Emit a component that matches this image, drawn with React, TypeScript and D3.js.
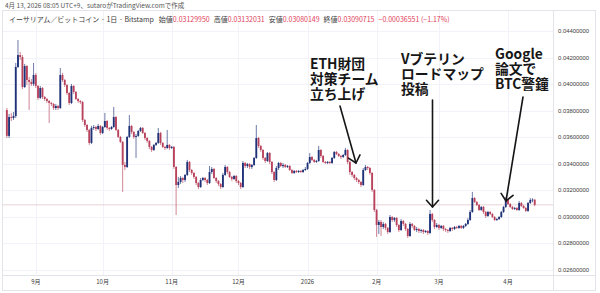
import React from 'react';
import * as d3 from 'd3';

// ---------- DATA ----------
const startDate = '2025-08-19';
const firstOpen = 0.03805;
const closes = [
  0.03610, 0.03752, 0.03745, 0.03760, 0.04129, 0.04219, 0.04204, 0.03978, 0.04136, 0.04031,
  0.04016, 0.04001, 0.04069, 0.03986, 0.03896, 0.03971, 0.03903, 0.03888, 0.03873, 0.03858,
  0.03850, 0.03820, 0.03835, 0.03820, 0.04069, 0.04031, 0.03993, 0.03933, 0.03858, 0.03986,
  0.03941, 0.03888, 0.03873, 0.03865, 0.03730, 0.03692, 0.03655, 0.03557, 0.03670, 0.03677,
  0.03662, 0.03685, 0.03632, 0.03677, 0.03722, 0.03670, 0.03662, 0.03677, 0.03752, 0.03655,
  0.03602, 0.03564, 0.03391, 0.03376, 0.03602, 0.03685, 0.03640, 0.03602, 0.03610, 0.03647,
  0.03670, 0.03632, 0.03594, 0.03572, 0.03527, 0.03504, 0.03542, 0.03557, 0.03632, 0.03557,
  0.03527, 0.03519, 0.03542, 0.03519, 0.03527, 0.03376, 0.03240, 0.03263, 0.03293, 0.03278,
  0.03316, 0.03414, 0.03353, 0.03331, 0.03301, 0.03255, 0.03225, 0.03278, 0.03293, 0.03278,
  0.03255, 0.03338, 0.03361, 0.03293, 0.03270, 0.03248, 0.03225, 0.03316, 0.03376, 0.03338,
  0.03301, 0.03286, 0.03308, 0.03270, 0.03255, 0.03225, 0.03406, 0.03383, 0.03398, 0.03376,
  0.03391, 0.03444, 0.03594, 0.03534, 0.03504, 0.03444, 0.03421, 0.03481, 0.03414, 0.03338,
  0.03278, 0.03368, 0.03406, 0.03383, 0.03391, 0.03376, 0.03383, 0.03353, 0.03331, 0.03346,
  0.03338, 0.03346, 0.03338, 0.03353, 0.03361, 0.03406, 0.03451, 0.03429, 0.03414, 0.03421,
  0.03504, 0.03459, 0.03414, 0.03406, 0.03414, 0.03406, 0.03444, 0.03489, 0.03474, 0.03459,
  0.03451, 0.03466, 0.03504, 0.03414, 0.03338, 0.03316, 0.03293, 0.03278, 0.03263, 0.03240,
  0.03353, 0.03376, 0.03368, 0.03331, 0.03203, 0.03052, 0.02939, 0.02962, 0.02924, 0.02947,
  0.02917, 0.02886, 0.02999, 0.02977, 0.02992, 0.02939, 0.02901, 0.02969, 0.02947, 0.02909,
  0.02856, 0.02947, 0.02932, 0.02901, 0.02909, 0.02894, 0.02901, 0.02886, 0.02894, 0.02879,
  0.03022, 0.02977, 0.02924, 0.02939, 0.02917, 0.02932, 0.02909, 0.02901, 0.02894, 0.02917,
  0.02909, 0.02924, 0.02917, 0.02932, 0.02917, 0.02932, 0.02947, 0.02977, 0.03037, 0.03142,
  0.03112, 0.03090, 0.03052, 0.03075, 0.03037, 0.03007, 0.03037, 0.03022, 0.02999, 0.02977,
  0.02984, 0.02999, 0.03037, 0.03075, 0.03135, 0.03097, 0.03075, 0.03060, 0.03067, 0.03052,
  0.03105, 0.03082, 0.03067, 0.03045, 0.03105, 0.03127, 0.03130, 0.03090715,
];
const highs = [
  0.03820, 0.03775, 0.03783, 0.03790, 0.04159, 0.04332, 0.04242, 0.04219, 0.04152, 0.04144,
  0.04054, 0.04039, 0.04159, 0.04084, 0.03993, 0.03986, 0.03978, 0.03911, 0.03896, 0.03880,
  0.03865, 0.03858, 0.03850, 0.03843, 0.04121, 0.04084, 0.04039, 0.04001, 0.03941, 0.04001,
  0.03993, 0.03948, 0.03896, 0.03880, 0.03873, 0.03737, 0.03700, 0.03662, 0.03685, 0.03692,
  0.03685, 0.03700, 0.03692, 0.03685, 0.03783, 0.03730, 0.03677, 0.03685, 0.03828, 0.03760,
  0.03662, 0.03610, 0.03572, 0.03414, 0.03610, 0.03767, 0.03692, 0.03647, 0.03624, 0.03655,
  0.03677, 0.03677, 0.03640, 0.03602, 0.03579, 0.03534, 0.03549, 0.03564, 0.03670, 0.03640,
  0.03564, 0.03534, 0.03655, 0.03549, 0.03534, 0.03534, 0.03383, 0.03301, 0.03308, 0.03301,
  0.03323, 0.03429, 0.03421, 0.03361, 0.03338, 0.03308, 0.03263, 0.03293, 0.03301, 0.03301,
  0.03286, 0.03383, 0.03376, 0.03368, 0.03301, 0.03278, 0.03255, 0.03331, 0.03391, 0.03383,
  0.03346, 0.03308, 0.03316, 0.03316, 0.03278, 0.03263, 0.03421, 0.03414, 0.03406, 0.03406,
  0.03398, 0.03451, 0.03692, 0.03602, 0.03542, 0.03511, 0.03451, 0.03489, 0.03489, 0.03421,
  0.03346, 0.03383, 0.03414, 0.03414, 0.03406, 0.03398, 0.03391, 0.03391, 0.03361, 0.03353,
  0.03353, 0.03353, 0.03353, 0.03361, 0.03376, 0.03414, 0.03481, 0.03459, 0.03436, 0.03429,
  0.03534, 0.03511, 0.03466, 0.03421, 0.03421, 0.03421, 0.03451, 0.03496, 0.03496, 0.03481,
  0.03466, 0.03474, 0.03519, 0.03511, 0.03421, 0.03346, 0.03323, 0.03301, 0.03286, 0.03270,
  0.03368, 0.03391, 0.03383, 0.03376, 0.03338, 0.03210, 0.03060, 0.02977, 0.02977, 0.02962,
  0.02954, 0.02924, 0.03014, 0.03007, 0.02999, 0.02999, 0.02947, 0.02984, 0.02977, 0.02954,
  0.02917, 0.02962, 0.02954, 0.02939, 0.02924, 0.02917, 0.02909, 0.02909, 0.02901, 0.02901,
  0.03052, 0.03030, 0.02984, 0.02954, 0.02947, 0.02939, 0.02939, 0.02917, 0.02909, 0.02924,
  0.02924, 0.02932, 0.02932, 0.02939, 0.02939, 0.02939, 0.02954, 0.02992, 0.03052, 0.03188,
  0.03150, 0.03120, 0.03097, 0.03082, 0.03082, 0.03045, 0.03045, 0.03045, 0.03030, 0.03007,
  0.02992, 0.03007, 0.03045, 0.03082, 0.03150, 0.03142, 0.03105, 0.03082, 0.03075, 0.03075,
  0.03120, 0.03112, 0.03090, 0.03075, 0.03112, 0.03142, 0.03140, 0.03132031,
];
const lows = [
  0.03594, 0.03594, 0.03722, 0.03730, 0.03745, 0.04121, 0.04182, 0.03963, 0.03971, 0.03993,
  0.03805, 0.03986, 0.03986, 0.03971, 0.03880, 0.03888, 0.03888, 0.03873, 0.03858, 0.03707,
  0.03835, 0.03805, 0.03805, 0.03805, 0.03813, 0.04016, 0.03978, 0.03918, 0.03843, 0.03850,
  0.03926, 0.03880, 0.03858, 0.03850, 0.03715, 0.03677, 0.03640, 0.03542, 0.03549, 0.03655,
  0.03647, 0.03655, 0.03617, 0.03624, 0.03670, 0.03655, 0.03647, 0.03655, 0.03670, 0.03647,
  0.03594, 0.03557, 0.03188, 0.03353, 0.03368, 0.03594, 0.03624, 0.03587, 0.03444, 0.03602,
  0.03640, 0.03624, 0.03579, 0.03557, 0.03511, 0.03489, 0.03496, 0.03534, 0.03549, 0.03542,
  0.03519, 0.03504, 0.03511, 0.03504, 0.03511, 0.03361, 0.03014, 0.03218, 0.03248, 0.03255,
  0.03263, 0.03308, 0.03338, 0.03316, 0.03286, 0.03240, 0.03210, 0.03218, 0.03270, 0.03263,
  0.03240, 0.03248, 0.03323, 0.03286, 0.03255, 0.03233, 0.03210, 0.03218, 0.03308, 0.03323,
  0.03293, 0.03270, 0.03278, 0.03255, 0.03240, 0.03210, 0.03218, 0.03368, 0.03368, 0.03361,
  0.03361, 0.03383, 0.03436, 0.03519, 0.03489, 0.03429, 0.03406, 0.03414, 0.03398, 0.03323,
  0.03263, 0.03270, 0.03353, 0.03376, 0.03368, 0.03368, 0.03368, 0.03346, 0.03323, 0.03323,
  0.03331, 0.03331, 0.03331, 0.03331, 0.03346, 0.03353, 0.03398, 0.03421, 0.03406, 0.03406,
  0.03414, 0.03444, 0.03406, 0.03398, 0.03398, 0.03398, 0.03398, 0.03436, 0.03466, 0.03451,
  0.03436, 0.03444, 0.03459, 0.03398, 0.03316, 0.03301, 0.03278, 0.03263, 0.03248, 0.03225,
  0.03233, 0.03346, 0.03353, 0.03316, 0.03188, 0.03037, 0.02849, 0.02871, 0.02856, 0.02909,
  0.02901, 0.02871, 0.02879, 0.02962, 0.02962, 0.02924, 0.02886, 0.02894, 0.02932, 0.02894,
  0.02841, 0.02849, 0.02917, 0.02894, 0.02886, 0.02879, 0.02879, 0.02871, 0.02879, 0.02864,
  0.02871, 0.02962, 0.02909, 0.02917, 0.02901, 0.02909, 0.02894, 0.02886, 0.02879, 0.02886,
  0.02894, 0.02901, 0.02909, 0.02909, 0.02909, 0.02909, 0.02924, 0.02939, 0.02969, 0.03030,
  0.03105, 0.03082, 0.03045, 0.03045, 0.03022, 0.02992, 0.02999, 0.03014, 0.02992, 0.02969,
  0.02969, 0.02977, 0.02992, 0.03030, 0.03067, 0.03090, 0.03067, 0.03052, 0.03052, 0.03045,
  0.03045, 0.03075, 0.03060, 0.03037, 0.03037, 0.03097, 0.03110, 0.03080149,
];

const monthTickDates = ['2025-09-01', '2025-10-01', '2025-11-01', '2025-12-01', '2026-01-01', '2026-02-01', '2026-03-01', '2026-04-01'];
const monthTickLabels = ['9月', '10月', '11月', '12月', '2026', '2月', '3月', '4月'];
const priceTicks = [0.026, 0.028, 0.030, 0.032, 0.034, 0.036, 0.038, 0.040, 0.042, 0.044];

const creditText = '4月 13, 2026 08:05 UTC+9、sutaroがTradingView.comで作成';
const symbolText = 'イーサリアム／ビットコイン · 1日 · Bitstamp';
const ohlcLabels = ['始値', '高値', '安値', '終値'];
const ohlcValues = ['0.03129950', '0.03132031', '0.03080149', '0.03090715'];
const changeText = '−0.00036551 (−1.17%)';

const noteTexts = [
  ['ETH財団', '対策チーム', '立ち上げ'],
  ['Vブテリン', 'ロードマップ', '投稿'],
  ['Google', '論文で', 'BTC警鐘'],
];

// ---------- LAYOUT ----------
const W = 600;
const H = 293;
const paneLeft = 2.5;
const paneRight = 553.5;
const paneTop = 10.5;
const paneBottom = 275.5;
const frameRight = 595.5;
const frameBottom = 290.5;

const UP = '#1f3278';
const DOWN = '#b8425c';

const noteLayout = [
  { x: 310, y: 69, from: [340, 106], to: [356, 163] },
  { x: 401, y: 64, from: [432.5, 100], to: [432.5, 207] },
  { x: 495, y: 59, from: [523, 97], to: [506, 201] },
];

const parse = d3.utcParse('%Y-%m-%d');

export default function App() {
  const start = parse(startDate) as Date;
  const x = d3
    .scaleUtc()
    .domain([parse('2025-09-01') as Date, parse('2026-04-01') as Date])
    .range([35.8, 508]);
  const y = d3.scaleLinear().domain([0.026, 0.044]).range([270, 31]);

  const candles = closes.map((c, i) => {
    const o = i === 0 ? firstOpen : closes[i - 1];
    return {
      date: d3.utcDay.offset(start, i),
      open: o,
      close: c,
      high: Math.max(highs[i], o, c),
      low: Math.min(lows[i], o, c),
    };
  });

  const bodyW = 1.85;
  const last = candles[candles.length - 1];

  const arrowHead = (from: number[], to: number[]) => {
    const ang = Math.atan2(to[1] - from[1], to[0] - from[0]);
    const len = 9;
    const spread = (42 * Math.PI) / 180;
    const a1 = ang + Math.PI - spread;
    const a2 = ang + Math.PI + spread;
    return `M${to[0] + len * Math.cos(a1)},${to[1] + len * Math.sin(a1)}L${to[0]},${to[1]}L${to[0] + len * Math.cos(a2)},${to[1] + len * Math.sin(a2)}`;
  };

  return (
    <svg
      width={W}
      height={H}
      viewBox={`0 0 ${W} ${H}`}
      style={{ position: 'absolute', left: 0, top: 0, background: '#fff' }}
    >
      <rect x={0} y={0} width={W} height={H} fill="#fff" />
      {/* grid */}
      <g stroke="#f1f3f8" strokeWidth={1}>
        {priceTicks.map((t) => (
          <line key={t} x1={paneLeft} x2={paneRight} y1={Math.round(y(t)) + 0.5} y2={Math.round(y(t)) + 0.5} />
        ))}
        {monthTickDates.map((d) => {
          const xx = Math.round(x(parse(d) as Date)) + 0.5;
          return <line key={d} x1={xx} x2={xx} y1={paneTop} y2={paneBottom} />;
        })}
      </g>
      {/* frame */}
      <g stroke="#e2e4ea" strokeWidth={1} fill="none">
        <rect x={paneLeft} y={paneTop} width={frameRight - paneLeft} height={frameBottom - paneTop} />
        <line x1={paneRight} x2={paneRight} y1={paneTop} y2={frameBottom} />
        <line x1={paneLeft} x2={frameRight} y1={paneBottom} y2={paneBottom} />
      </g>
      {/* price line */}
      <line
        x1={paneLeft}
        x2={paneRight}
        y1={y(last.close)}
        y2={y(last.close)}
        stroke="#e6d3d7"
        strokeWidth={1}
      />
      {/* candles */}
      <g>
        {candles.map((c, i) => {
          const cx = x(c.date);
          const up = c.close >= c.open;
          const col = up ? UP : DOWN;
          const top = y(Math.max(c.open, c.close));
          const bh = Math.max(0.8, Math.abs(y(c.open) - y(c.close)));
          return (
            <g key={i}>
              <line x1={cx} x2={cx} y1={y(c.high)} y2={y(c.low)} stroke={col} strokeWidth={0.65} />
              <rect x={cx - bodyW / 2} y={top} width={bodyW} height={bh} fill={col} />
            </g>
          );
        })}
      </g>
      {/* price axis labels */}
      <g fontFamily="'Liberation Sans', Arial, sans-serif" fontSize={5.9} fill="#3b3b3b">
        {priceTicks.map((t) => (
          <text key={t} x={558} y={y(t) + 2}>
            {t.toFixed(8)}
          </text>
        ))}
      </g>
      {/* time axis labels */}
      <g fontFamily="'Noto Sans CJK JP', 'Liberation Sans', sans-serif" fontSize={6} fill="#3b3b3b" textAnchor="middle">
        {monthTickDates.map((d, i) => (
          <text key={d} x={x(parse(d) as Date)} y={284}>
            {monthTickLabels[i]}
          </text>
        ))}
      </g>
      {/* header */}
      <text x={5} y={7.5} fontFamily="'Noto Sans CJK JP', 'Liberation Sans', sans-serif" fontSize={6.5} fill="#555">
        {creditText}
      </text>
      <text x={9} y={22} fontFamily="'Noto Sans CJK JP', 'Liberation Sans', sans-serif" fontSize={7} fill="#3b3b3b">
        <tspan>{symbolText}</tspan>
        {ohlcLabels.map((l, i) => (
          <React.Fragment key={l}>
            <tspan dx={i === 0 ? 5 : 4}>{l}</tspan>
            <tspan fill="#e0415a">{ohlcValues[i]}</tspan>
          </React.Fragment>
        ))}
        <tspan dx={4} fill="#e0415a">{changeText}</tspan>
      </text>
      {/* annotations */}
      <g fontFamily="'Noto Sans CJK JP', sans-serif" fontWeight={700} fontSize={13.8} fill="#161616">
        {noteTexts.map((lines, k) => (
          <text key={k} x={noteLayout[k].x} y={noteLayout[k].y}>
            {lines.map((ln, j) => (
              <tspan key={j} x={noteLayout[k].x} dy={j === 0 ? 0 : 14.8}>
                {ln}
              </tspan>
            ))}
          </text>
        ))}
      </g>
      <g stroke="#161616" strokeWidth={1.6} fill="none" strokeLinecap="round" strokeLinejoin="round">
        {noteLayout.map((n, k) => (
          <g key={k}>
            <line x1={n.from[0]} y1={n.from[1]} x2={n.to[0]} y2={n.to[1]} />
            <path d={arrowHead(n.from, n.to)} />
          </g>
        ))}
      </g>
    </svg>
  );
}
